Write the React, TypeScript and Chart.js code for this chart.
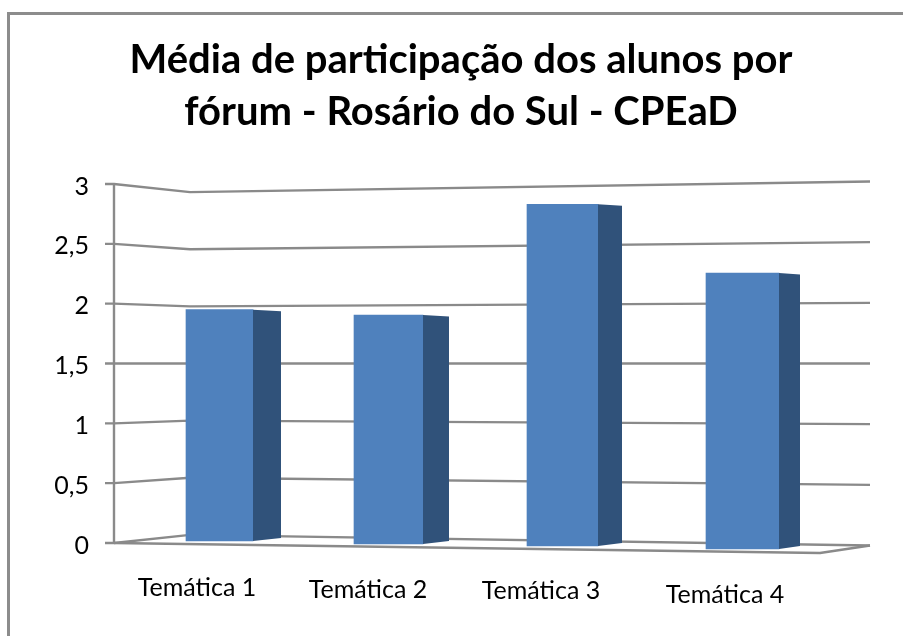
import React, { useEffect, useRef } from "react";
import { Chart, registerables } from "chart.js";

Chart.register(...registerables);

const categories = ["Temática 1", "Temática 2", "Temática 3", "Temática 4"];
const values = [1.95, 1.905, 2.83, 2.256];
const yTicks = [0, 0.5, 1, 1.5, 2, 2.5, 3];
const titleLines = ["Média de participação dos alunos por", "fórum - Rosário do Sul - CPEaD"];

// 3D look of the original: per-bar perspective adjustments, applied to the library's elements
const barShift = [-0.5, -5.5, -5.5, 0.5];
const barGrow = [-3, -1, 1, 3];
const baseShift = [-2, 1, 3, 6];
const sideDepth = [28, 26, 24, 21];
const labelShift: [number, number][] = [[-23, 0], [-26, 2], [-27, 3], [-17, 7]];

const GRID = "#8a8a8a";
const FRONT = "#4f81bd";
const SIDE = "#30527a";

const wallX = 114, cornerX = 190, rightX = 870, frontRightX = 820;
const midValue = 1.5;

const perspective = {
  id: "perspective",
  afterDatasetsUpdate(chart: any) {
    const meta = chart.getDatasetMeta(0);
    meta.data.forEach((el: any, i: number) => {
      el.x += barShift[i];
      el.width += barGrow[i];
      el.base += baseShift[i];
      el.height = el.base - el.y;
    });
    chart.scales.x.getLabelItems().forEach((item: any, i: number) => {
      const t = item.options.translation;
      t[0] += labelShift[i][0];
      t[1] += labelShift[i][1];
    });
    chart.scales.y.getLabelItems().forEach((item: any) => {
      item.options.translation[1] += 2.5;
    });
  },
  beforeDatasetsDraw(chart: any) {
    const { ctx, scales } = chart;
    const y = scales.y;
    const mid = y.getPixelForValue(midValue);
    const at = (v: number, f: number) => mid + (y.getPixelForValue(v) - mid) * f;
    ctx.save();
    ctx.strokeStyle = GRID;
    ctx.lineWidth = 2.4;
    ctx.lineJoin = "round";
    // vertical wall edge
    ctx.beginPath();
    ctx.moveTo(wallX, y.getPixelForValue(3));
    ctx.lineTo(wallX, y.getPixelForValue(0));
    ctx.stroke();
    yTicks.forEach((v) => {
      ctx.beginPath();
      ctx.moveTo(wallX - 9, y.getPixelForValue(v));
      ctx.lineTo(wallX, y.getPixelForValue(v));
      ctx.lineTo(cornerX, at(v, 0.955));
      ctx.lineTo(rightX, at(v, 1.014));
      ctx.stroke();
    });
    // floor front edge
    ctx.beginPath();
    ctx.moveTo(wallX, y.getPixelForValue(0));
    ctx.lineTo(frontRightX, y.getPixelForValue(0) + 10);
    ctx.lineTo(rightX, at(0, 1.014));
    ctx.stroke();
    ctx.restore();
  },
  afterDatasetsDraw(chart: any) {
    const { ctx } = chart;
    const meta = chart.getDatasetMeta(0);
    ctx.save();
    ctx.fillStyle = SIDE;
    meta.data.forEach((el: any, i: number) => {
      const r = el.x + el.width / 2;
      ctx.beginPath();
      ctx.moveTo(r, el.y);
      ctx.lineTo(r + sideDepth[i], el.y + 1.5);
      ctx.lineTo(r + sideDepth[i], el.base - 3);
      ctx.lineTo(r, el.base);
      ctx.closePath();
      ctx.fill();
    });
    ctx.restore();
  },
};

export default function App() {
  const ref = useRef<HTMLCanvasElement>(null);
  useEffect(() => {
    document.body.style.margin = "0";
    document.body.style.background = "#fff";
    const chart = new Chart(ref.current!, {
      type: "bar",
      data: {
        labels: categories,
        datasets: [{ label: "Média", data: values, backgroundColor: FRONT, barThickness: 70, borderWidth: 0, clip: false }],
      },
      plugins: [perspective],
      options: {
        responsive: false,
        animation: false,
        layout: { padding: { left: 19, right: 0, bottom: 8, top: 0 } },
        plugins: {
          legend: { display: false },
          tooltip: { enabled: false },
          title: {
            display: true,
            text: titleLines,
            color: "#000",
            font: { family: "Lato", size: 40, weight: "bold", lineHeight: 1.3 },
            padding: { top: 34, bottom: 46 },
            align: "center",
          },
        },
        scales: {
          x: {
            grid: { display: false },
            border: { display: false },
            ticks: { color: "#000", font: { family: "Lato", size: 25 }, maxRotation: 0, padding: 22 },
            afterFit: (s: any) => { s.height = 85; },
          },
          y: {
            min: 0,
            max: 3,
            grid: { display: false },
            border: { display: false },
            afterBuildTicks: (s: any) => { s.ticks = yTicks.map((value) => ({ value })); },
            ticks: {
              color: "#000",
              font: { family: "Lato", size: 25 },
              padding: 36,
              callback: (v: any) => String(v).replace(".", ","),
            },
            afterFit: (s: any) => { s.width = 114; },
          },
          y2: {
            position: "right",
            display: true,
            min: 0,
            max: 3,
            grid: { display: false },
            border: { display: false },
            ticks: { display: false },
            afterFit: (s: any) => { s.width = 74; },
          },
        },
      } as any,
    });
    return () => chart.destroy();
  }, []);
  return (
    <div style={{ position: "relative", width: 903, height: 636 }}>
      <canvas ref={ref} width={903} height={636} style={{ display: "block" }} />
      <div
        style={{
          position: "absolute", left: 7, top: 12, right: 0, bottom: 0,
          borderLeft: "3px solid #8c8c8c", borderTop: "3px solid #8c8c8c", pointerEvents: "none",
        }}
      />
    </div>
  );
}
